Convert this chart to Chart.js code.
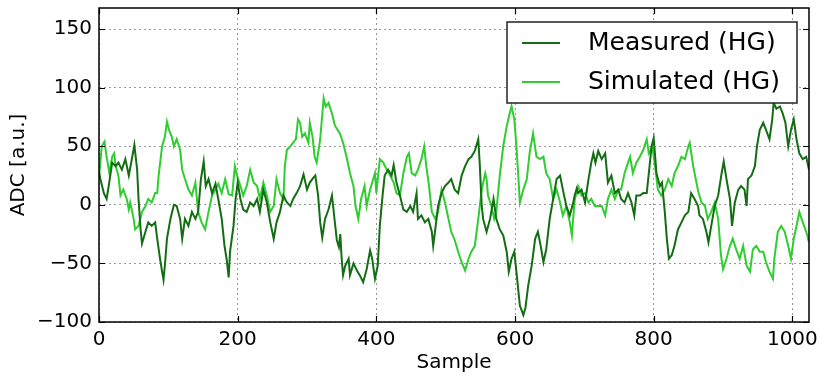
<!DOCTYPE html>
<html>
<head>
<meta charset="utf-8">
<script src="https://cdn.jsdelivr.net/npm/chart.js@4.4.1/dist/chart.umd.min.js"></script>
<style>
  html, body { margin: 0; padding: 0; background: #fff; }
</style>
</head>
<body>
<canvas id="adcChart" width="820" height="376"></canvas>
<script>
// values (sample index -> ADC)
const seriesLabels = ["Measured (HG)", "Simulated (HG)"];

const measuredSample = [0, 2, 7, 11, 14, 19, 24, 28, 33, 38, 43, 48, 51, 55, 57, 60, 62, 67, 71, 76, 81, 84, 88, 91, 93, 95, 98, 103, 108, 112, 117, 120, 124, 129, 134, 139, 143, 147, 151, 154, 158, 163, 168, 172, 177, 181, 184, 187, 189, 194, 197, 200, 204, 208, 213, 218, 223, 228, 232, 237, 242, 247, 252, 256, 261, 266, 271, 276, 280, 285, 290, 295, 300, 304, 309, 312, 316, 319, 322, 326, 331, 336, 340, 343, 346, 348, 350, 352, 355, 360, 362, 367, 372, 376, 381, 386, 391, 394, 398, 402, 405, 409, 412, 417, 422, 425, 429, 434, 439, 444, 449, 453, 458, 460, 465, 470, 475, 480, 482, 485, 489, 494, 499, 504, 508, 513, 518, 523, 528, 533, 537, 542, 547, 549, 552, 554, 559, 564, 569, 573, 578, 583, 588, 591, 595, 599, 602, 607, 612, 615, 619, 624, 629, 633, 637, 641, 645, 650, 655, 660, 665, 669, 674, 679, 684, 686, 689, 691, 696, 701, 706, 710, 713, 716, 720, 725, 730, 734, 739, 744, 749, 753, 758, 763, 768, 772, 775, 780, 785, 790, 793, 797, 800, 804, 809, 812, 816, 819, 822, 826, 830, 835, 840, 845, 850, 854, 859, 864, 866, 871, 876, 879, 883, 888, 893, 898, 901, 905, 910, 913, 917, 922, 926, 931, 934, 936, 941, 946, 949, 953, 958, 962, 967, 971, 973, 977, 982, 986, 990, 994, 998, 1002, 1006, 1010, 1015, 1020, 1024];
const measuredAdc = [28, 22, 10, 5, 16, 36, 33, 36, 30, 39, 25, 41, 51, 30, 5, -21, -33, -23, -15, -18, -15, -29, -46, -57, -64, -52, -29, -12, 0, -1, -12, -29, -12, -18, -6, -12, -6, 22, 37, 16, 22, 10, 18, 5, -12, -35, -46, -62, -40, -18, 5, 19, 5, -4, -6, 2, -1, 5, -6, 13, 2, -15, -29, -15, -6, 8, 2, -1, 5, 10, 16, 26, 13, 19, 23, 25, 8, -15, -28, -12, -4, 8, -14, -30, -36, -25, -46, -60, -52, -46, -60, -50, -56, -60, -66, -55, -39, -46, -63, -52, -18, 8, 25, 30, 25, 34, 19, 8, -4, -6, -1, -6, 10, -12, -9, -15, -12, -23, -35, -21, -1, 10, 16, 19, 22, 13, 10, 25, 33, 39, 41, 46, 56, 36, -1, -12, -23, -12, 5, -12, -21, -26, -40, -57, -46, -40, -57, -86, -94, -88, -69, -52, -29, -23, -35, -49, -38, -12, 5, 22, 25, 13, -1, -9, 2, 8, 14, 10, 13, 2, 22, 36, 44, 36, 46, 39, 44, 19, 25, 10, 13, 5, 2, 10, 2, -9, 8, 8, 10, 10, 27, 50, 57, 27, 16, 19, -6, -29, -46, -43, -35, -21, -15, -9, -6, 10, 5, -1, -9, -12, -23, -32, -18, -1, 8, 27, 37, 22, 5, -18, 2, 13, 16, 13, -1, 22, 25, 33, 50, 64, 70, 64, 56, 73, 87, 82, 84, 78, 70, 50, 64, 73, 56, 44, 39, 41, 30];

const simulatedSample = [0, 2, 4, 8, 11, 15, 19, 22, 24, 28, 31, 35, 40, 43, 45, 50, 52, 57, 62, 67, 71, 76, 81, 84, 86, 91, 95, 98, 101, 105, 108, 112, 117, 120, 124, 129, 134, 139, 143, 148, 153, 158, 163, 168, 172, 177, 182, 187, 192, 196, 199, 204, 208, 213, 218, 223, 228, 232, 237, 242, 247, 252, 256, 261, 266, 268, 271, 276, 280, 284, 287, 290, 293, 297, 302, 304, 308, 311, 314, 319, 324, 327, 331, 336, 340, 344, 348, 352, 357, 362, 367, 370, 374, 378, 383, 386, 391, 394, 398, 400, 405, 410, 415, 420, 425, 429, 434, 439, 444, 447, 451, 456, 460, 465, 469, 472, 476, 480, 485, 489, 494, 499, 504, 508, 513, 518, 523, 528, 533, 537, 542, 547, 552, 557, 559, 561, 566, 570, 573, 578, 583, 588, 591, 595, 599, 602, 605, 607, 612, 617, 621, 626, 631, 636, 641, 645, 650, 655, 660, 665, 669, 674, 679, 682, 686, 691, 696, 701, 706, 710, 715, 720, 725, 730, 734, 739, 744, 749, 753, 758, 763, 766, 770, 775, 780, 785, 790, 793, 798, 802, 806, 811, 816, 821, 826, 830, 835, 840, 845, 850, 852, 857, 860, 864, 869, 874, 878, 883, 888, 893, 897, 900, 905, 910, 914, 919, 924, 929, 934, 939, 943, 948, 953, 958, 962, 967, 972, 974, 979, 984, 989, 994, 998, 1002, 1006, 1010, 1015, 1020, 1024];
const simulatedAdc = [25, 36, 50, 54, 41, 27, 41, 44, 33, 25, 8, 13, 5, -4, 2, -12, -21, -18, -6, -1, 5, 2, 10, 10, 25, 50, 58, 71, 64, 58, 50, 56, 47, 30, 22, 13, 8, 19, -6, -15, -21, -6, 8, 13, 18, 10, 22, 9, 8, 33, 25, 16, 8, 16, 30, 19, 16, 5, 19, 8, -6, -1, 22, 10, 5, 33, 47, 50, 53, 56, 73, 70, 58, 61, 53, 70, 58, 41, 36, 56, 91, 84, 87, 78, 68, 64, 60, 53, 41, 27, 16, -1, -12, 5, 16, -1, 13, 19, 27, 10, 39, 36, 30, 25, 19, 10, 8, 27, 41, 44, 27, 25, 30, 39, 50, 33, 16, -6, -12, -6, 13, 2, -12, -23, -30, -40, -49, -56, -46, -40, -35, -12, 13, 27, 22, 8, -1, -12, -6, 25, 50, 67, 75, 84, 73, 50, 22, 2, 13, 22, 44, 61, 41, 39, 41, 27, 22, 5, 13, 2, -9, -1, -15, -26, 4, 16, 8, 10, 2, 5, -1, -1, -1, -9, 5, 13, 5, 13, 13, 27, 36, 41, 27, 36, 41, 47, 56, 44, 50, 33, 13, 8, 13, 22, 16, 27, 33, 41, 39, 50, 53, 33, 24, 12, 2, -1, -12, -6, 2, -12, -43, -55, -46, -35, -29, -38, -46, -35, -52, -57, -38, -35, -40, -40, -49, -57, -63, -46, -23, -18, -23, -35, -46, -29, -18, -6, -15, -23, -32];

const xTicks = [0, 200, 400, 600, 800, 1000];
const yTicks = [-100, -50, 0, 50, 100, 150];
const seriesColors = ["#136d13", "#2fcd2f"];

const font = "DejaVu Sans";

function toPoints(xs, ys) {
  return xs.map((x, i) => ({ x, y: ys[i] }));
}

// axes box, inward ticks and the boxed legend inside the plot
const framePlugin = {
  id: "frame",
  afterDraw(chart) {
    const { ctx, chartArea: a, scales } = chart;
    ctx.save();
    ctx.strokeStyle = "#000";
    ctx.lineWidth = 1.2;
    ctx.beginPath();
    xTicks.forEach(v => {
      const px = Math.round(scales.x.getPixelForValue(v)) + 0.5;
      ctx.moveTo(px, a.bottom); ctx.lineTo(px, a.bottom - 6);
      ctx.moveTo(px, a.top); ctx.lineTo(px, a.top + 6);
    });
    yTicks.forEach(v => {
      const py = Math.round(scales.y.getPixelForValue(v)) + 0.5;
      ctx.moveTo(a.left, py); ctx.lineTo(a.left + 6, py);
      ctx.moveTo(a.right, py); ctx.lineTo(a.right - 6, py);
    });
    ctx.stroke();
    ctx.lineWidth = 1.5;
    ctx.strokeRect(a.left, a.top, a.right - a.left, a.bottom - a.top);

    // legend
    const lx = a.right - 302, ly = a.top + 14, lw = 290, lh = 81;
    ctx.fillStyle = "#fff";
    ctx.fillRect(lx, ly, lw, lh);
    ctx.strokeStyle = "#222";
    ctx.lineWidth = 1.5;
    ctx.strokeRect(lx, ly, lw, lh);
    ctx.font = "25px '" + font + "'";
    ctx.textBaseline = "middle";
    ctx.textAlign = "left";
    chart.data.datasets.forEach((ds, i) => {
      const rowY = ly + 21 + i * 39;
      ctx.strokeStyle = ds.borderColor;
      ctx.lineWidth = 1.8;
      ctx.beginPath();
      ctx.moveTo(lx + 15, rowY);
      ctx.lineTo(lx + 53, rowY);
      ctx.stroke();
      ctx.fillStyle = "#000";
      ctx.fillText(ds.label, lx + 81, rowY);
    });
    ctx.restore();
  }
};

const noEdgePadding = s => {
  s.paddingTop = 0; s.paddingBottom = 0;
  s.paddingLeft = 0; s.paddingRight = 0;
};

const ctx = document.getElementById("adcChart").getContext("2d");

new Chart(ctx, {
  type: "line",
  data: {
    datasets: [
      {
        label: seriesLabels[0],
        data: toPoints(measuredSample, measuredAdc),
        borderColor: seriesColors[0],
        borderWidth: 2
      },
      {
        label: seriesLabels[1],
        data: toPoints(simulatedSample, simulatedAdc),
        borderColor: seriesColors[1],
        borderWidth: 2
      }
    ]
  },
  options: {
    responsive: false,
    animation: false,
    devicePixelRatio: 1,
    parsing: false,
    layout: { padding: { top: 8, right: 11, left: 0, bottom: 0 } },
    elements: { point: { radius: 0 }, line: { tension: 0, fill: false } },
    plugins: {
      legend: { display: false },
      tooltip: { enabled: false }
    },
    scales: {
      x: {
        type: "linear",
        min: 0,
        max: 1024,
        afterBuildTicks: s => { s.ticks = xTicks.map(v => ({ value: v })); },
        afterFit: s => { s.height = 54; noEdgePadding(s); },
        grid: { color: "#999", lineWidth: 1, drawTicks: false },
        border: { display: false, dash: [2, 3] },
        ticks: {
          color: "#000",
          padding: 6,
          maxRotation: 0,
          autoSkip: false,
          font: { family: font, size: 20 },
          callback: v => String(v)
        },
        title: {
          display: true,
          text: "Sample",
          color: "#000",
          font: { family: font, size: 20 },
          padding: { top: 0, bottom: 1 }
        }
      },
      y: {
        type: "linear",
        min: -100,
        max: 168,
        afterBuildTicks: s => { s.ticks = yTicks.map(v => ({ value: v })); },
        afterFit: s => { s.width = 99; noEdgePadding(s); },
        grid: { color: "#999", lineWidth: 1, drawTicks: false },
        border: { display: false, dash: [2, 3] },
        ticks: {
          color: "#000",
          padding: 7,
          autoSkip: false,
          font: { family: font, size: 20 },
          callback: v => String(v).replace("-", "\u2212")
        },
        title: {
          display: true,
          text: "ADC [a.u.]",
          color: "#000",
          font: { family: font, size: 20 },
          padding: { top: 7, bottom: 0 }
        }
      }
    }
  },
  plugins: [framePlugin]
});
</script>
</body>
</html>
